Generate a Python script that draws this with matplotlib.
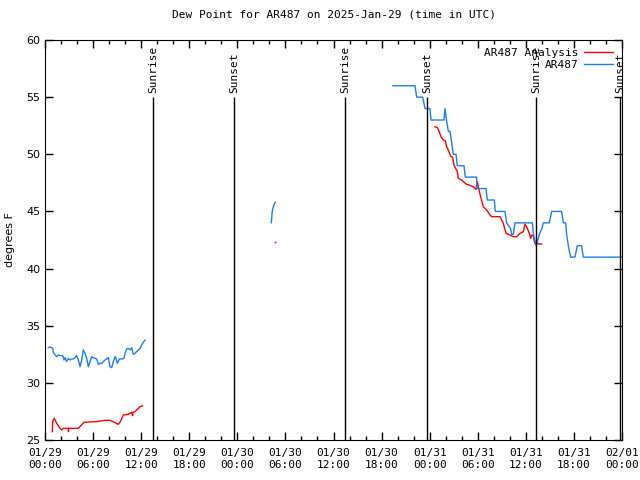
import numpy as np
import matplotlib
matplotlib.use("Agg")
from matplotlib import pyplot as plt
from matplotlib.ticker import MultipleLocator

# hours since 2025-01-29 00:00 UTC
obs_t1 = [0.42, 0.62, 0.96, 1.04, 1.25, 1.46, 1.66, 1.96, 2.21, 2.37, 2.50, 2.70, 2.91, 3.12,
          3.33, 3.54, 3.74, 3.95, 4.16, 4.37, 4.58, 4.78, 4.99, 5.20, 5.41, 5.62, 5.82, 6.03,
          6.24, 6.45, 6.66, 6.86, 7.07, 7.28, 7.49, 7.70, 7.90, 8.11, 8.32, 8.53, 8.74, 8.86,
          9.03, 9.28, 9.57, 9.86, 9.98, 10.19, 10.40, 10.61, 10.82, 11.02, 11.23, 11.44, 11.65,
          11.86, 12.07, 12.27, 12.48]
obs_v1 = [33.08, 33.14, 33.02, 32.67, 32.44, 32.29, 32.44, 32.38, 32.38, 32.00, 32.21, 31.86,
          32.15, 32.00, 32.09, 32.09, 32.21, 32.38, 32.00, 31.42, 32.00, 32.88, 32.59, 32.15,
          31.42, 31.86, 32.29, 32.21, 32.15, 32.09, 31.62, 31.71, 31.71, 31.86, 32.00, 32.09,
          32.21, 31.42, 31.33, 31.86, 32.29, 32.15, 31.71, 32.09, 32.09, 32.15, 32.59, 32.97,
          33.02, 32.88, 33.08, 32.50, 32.59, 32.73, 32.88, 33.02, 33.32, 33.55, 33.75]

obs_t2 = [28.24, 28.36, 28.49, 28.61, 28.74]
obs_v2 = [44.01, 45.03, 45.41, 45.65, 45.80]

obs_t3 = [43.42, 46.17, 46.38, 47.13, 47.42, 48.04, 48.17, 49.79, 49.91, 50.10, 50.33, 50.54,
          50.75, 50.95, 51.29, 51.45, 52.28, 52.45, 53.86, 53.90, 55.03, 55.20, 56.07, 56.19,
          57.40, 57.60, 58.10, 58.23, 58.44, 58.65, 60.81, 60.95, 61.27, 61.50, 61.69, 62.00,
          62.18, 62.93, 63.22, 64.47, 64.68, 64.97, 65.09, 65.30, 65.59, 66.13, 66.42, 66.96,
          67.17, 72.00]
obs_v3 = [56, 56, 55, 55, 54, 54, 53, 53, 54, 53, 52, 52, 51, 50, 50, 49, 49, 48, 48, 47,
          47, 46, 46, 45, 45, 44, 43.5, 43, 43, 44, 44, 43, 42, 42.5, 43, 43.5, 44, 44, 45,
          45, 44, 44, 43, 42, 41, 41, 42, 42, 41, 41]

ana_t1 = [0.91, 0.96, 1.16, 1.46, 1.87, 2.08, 2.29, 2.50, 2.91, 2.93, 2.95, 4.16, 4.87, 6.45,
          7.49, 8.11, 8.74, 9.15, 9.36, 9.78, 10.40, 10.82, 10.94, 10.96, 11.23, 11.86, 12.19]
ana_v1 = [25.73, 26.61, 26.90, 26.46, 26.02, 25.88, 26.02, 26.02, 26.02, 25.73, 26.02, 26.02,
          26.55, 26.61, 26.72, 26.72, 26.52, 26.37, 26.55, 27.19, 27.25, 27.42, 27.13, 27.42,
          27.48, 27.92, 27.98]

ana_t2 = [28.74]
ana_v2 = [42.30]

ana_t3 = [48.66, 48.95, 49.20, 49.41, 49.70, 49.95, 50.12, 50.41, 50.62, 50.87, 51.03, 51.45,
          51.57, 51.99, 52.53, 52.95, 53.44, 53.78, 53.95, 54.11, 54.36, 54.69, 55.11, 55.53,
          55.74, 56.78, 57.19, 57.53, 58.03, 58.44, 58.86, 59.27, 59.69, 59.89, 60.10, 60.44,
          60.60, 60.73, 60.94, 61.02, 61.14, 61.35, 61.56, 61.98]
ana_v3 = [52.41, 52.35, 51.97, 51.54, 51.25, 51.19, 50.66, 50.23, 49.85, 49.73, 49.06, 48.48,
          47.89, 47.75, 47.40, 47.31, 47.16, 46.93, 47.60, 47.02, 46.29, 45.41, 45.12, 44.68,
          44.54, 44.54, 43.96, 43.08, 42.93, 42.79, 42.79, 43.08, 43.23, 43.90, 43.66, 43.08,
          42.64, 42.93, 42.85, 42.50, 42.20, 42.35, 42.15, 42.15]

sun_t = [13.48, 23.58, 37.43, 47.67, 61.27, 71.75]
sun_lbl = ["Sunrise", "Sunset", "Sunrise", "Sunset", "Sunrise", "Sunset"]

xtick_lbl = ["01/29\n00:00", "01/29\n06:00", "01/29\n12:00", "01/29\n18:00",
             "01/30\n00:00", "01/30\n06:00", "01/30\n12:00", "01/30\n18:00",
             "01/31\n00:00", "01/31\n06:00", "01/31\n12:00", "01/31\n18:00",
             "02/01\n00:00"]

mono = "DejaVu Sans Mono"
red = "#ff0000"
blue = "#1a80f0"

fig = plt.figure(figsize=(6.4, 4.8), dpi=100)
ax = fig.add_axes([45 / 640, 40 / 480, 577 / 640, 400 / 480])

ax.plot(ana_t1, ana_v1, color=red, lw=1, label="AR487 Analysis")
ax.plot(ana_t2, ana_v2, color=red, lw=1, marker="s", ms=1.2, mew=0)
ax.plot(ana_t3, ana_v3, color=red, lw=1)
ax.plot(obs_t1, obs_v1, color=blue, lw=1, label="AR487")
ax.plot(obs_t2, obs_v2, color=blue, lw=1)
ax.plot(obs_t3, obs_v3, color=blue, lw=1)

ax.vlines(sun_t, 25, 55, color="black", lw=1)
for t, s in zip(sun_t, sun_lbl):
    ax.text(t, 55.4, s, rotation=90, ha="center", va="bottom", fontsize=8, family=mono)

ax.set_xlim(0, 72)
ax.set_ylim(25, 60)
ax.set_xticks(np.arange(0, 73, 6))
ax.set_xticklabels(xtick_lbl, family=mono, fontsize=8)
ax.xaxis.set_minor_locator(MultipleLocator(2))
ax.set_yticks(np.arange(25, 61, 5))
ax.tick_params(which="both", direction="in", top=True, right=True, width=1)
ax.tick_params(which="major", length=6, labelsize=8)
ax.tick_params(which="minor", length=3)
ax.tick_params(axis="x", pad=6)

ax.set_ylabel("degrees F", fontsize=8, labelpad=8)
ax.set_title("Dew Point for AR487 on 2025-Jan-29 (time in UTC)", fontsize=8, family=mono, pad=16)

leg = ax.legend(loc="upper right", frameon=False, markerfirst=False, prop={"family": mono, "size": 8},
                handlelength=2.6, handletextpad=0.5, borderaxespad=0.3, labelspacing=0.2,
                bbox_to_anchor=(0.998, 1.0))

fig.savefig("out.png", dpi=100)
